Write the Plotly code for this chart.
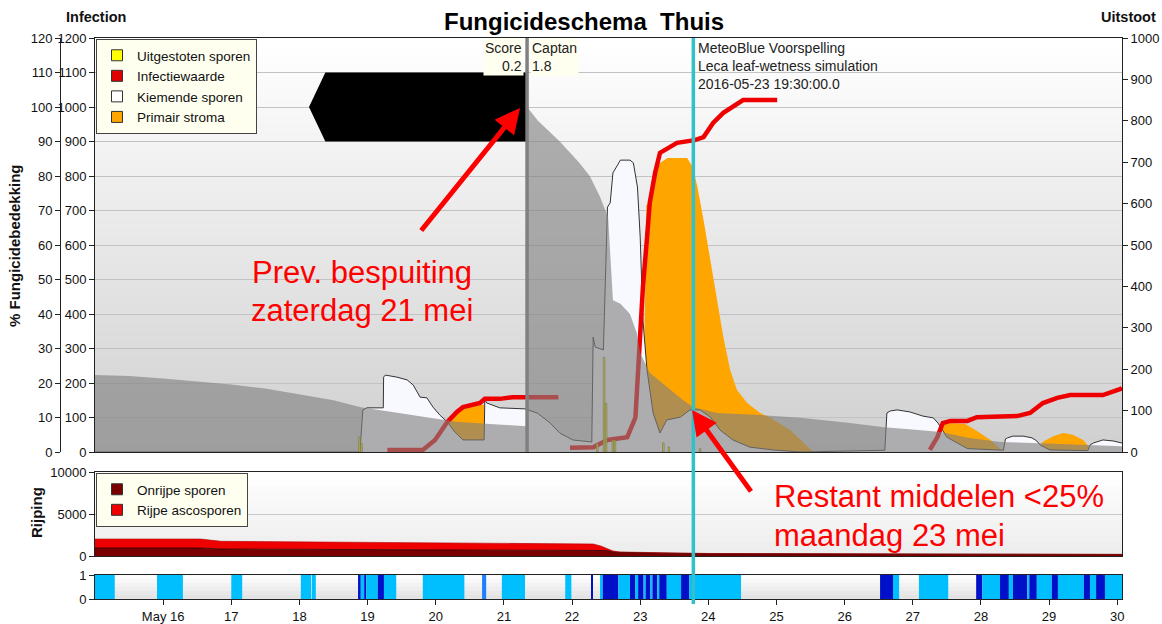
import plotly.graph_objects as go

FONT = "Liberation Sans, Arial, sans-serif"

# ---------------- DATA ----------------
# time axis = fractional day of May 2016
x_range = [15.0, 30.07]
tick_days = list(range(16, 31))
tick_text = ["May 16"] + [str(d) for d in range(17, 31)]

spray_day = 21.34            # Prev. bespuiting (zaterdag 21 mei)
forecast_day = 23.78         # MeteoBlue forecast start
spray_marker_start = 18.14
spray_marker_shoulder = 18.38
spray_marker_level = 100
spray_marker_half = 10

# % Fungicidebedekking (0-120)
cov_days = [15.00, 15.5, 16.0, 16.5, 17.0, 17.5, 18.0, 18.5, 18.9, 19.3, 19.8, 20.3, 20.8, 21.33,
            21.34, 21.5, 21.82, 22.1, 22.26, 22.41, 22.53, 22.58, 22.60, 22.71, 22.85, 22.95, 23.00,
            23.14, 23.39, 23.63, 23.78, 24.13, 24.76, 25.35, 26.08, 26.58, 27.08, 27.41, 27.81,
            28.29, 28.77, 29.50, 30.07]
cov_pct = [22.3, 22.0, 21.3, 20.5, 19.6, 18.4, 16.8, 15.0, 13.0, 11.8, 10.2, 8.8, 8.1, 7.5,
           100, 96, 90, 84, 80, 74, 68, 50, 44, 43, 40, 34.5, 28.7,
           23, 18.8, 15, 13, 11.3, 10.7, 9.9, 8.4, 7.2, 6.4, 5.8, 4.1,
           2.9, 2.6, 2.0, 1.7]

# Kiemende sporen (Infection axis 0-1200)
kiem_days = [15.0, 18.86, 18.89, 18.93, 18.99, 19.23, 19.235, 19.26, 19.43, 19.58, 19.67, 19.77,
             19.87, 19.96, 20.06, 20.17, 20.28, 20.40, 20.71, 20.72, 20.75, 20.94, 21.31, 21.49,
             21.68, 21.82, 22.01, 22.26, 22.29, 22.31, 22.34, 22.46, 22.48, 22.52, 22.56, 22.60,
             22.71, 22.85, 22.90, 22.96, 23.00, 23.04, 23.10, 23.14, 23.19, 23.29, 23.39, 23.59,
             23.73, 23.88, 24.03, 24.17, 24.36, 24.61, 24.95, 25.35, 26.56, 26.59, 26.62, 26.67,
             26.77, 26.96, 27.15, 27.30, 27.37, 27.43, 27.50, 27.80, 28.28, 28.33, 28.36, 28.39,
             28.47, 28.62, 28.75, 28.82, 28.87, 29.01, 29.57, 29.60, 29.65, 29.79, 29.94, 30.05, 30.07]
kiem_vals = [0, 0, 6, 122, 128, 128, 217, 223, 217, 209, 194, 159,
             157, 130, 107, 87, 58, 35, 35, 151, 142, 128, 125, 113,
             84, 55, 35, 29, 29, 333, 304, 296, 440, 710, 722, 809,
             846, 846, 838, 768, 623, 383, 238, 188, 113, 55, 93, 101,
             122, 122, 101, 64, 35, 14, 6, 0, 3, 5, 113, 119,
             122, 116, 104, 99, 84, 64, 43, 10, 5, 5, 38, 41,
             46, 46, 41, 32, 20, 6, 4, 20, 26, 35, 32, 26, 26]

# Primair stroma (Infection axis)
stroma_days = [15.0, 20.00, 20.06, 20.17, 20.31, 20.40, 20.65, 20.71, 20.72,
               23.04, 23.09, 23.14, 23.19, 23.29, 23.40, 23.69, 23.77, 23.84, 23.93, 24.03,
               24.13, 24.22, 24.32, 24.42, 24.57, 24.76, 24.91, 25.20, 25.54,
               27.37, 27.41, 27.46, 27.55, 27.77, 27.92, 28.14, 28.33,
               28.82, 28.91, 29.06, 29.21, 29.35, 29.50, 29.65, 30.07]
stroma_vals = [0, 0, 45, 87, 116, 130, 136, 136, 0,
               0, 715, 722, 797, 838, 852, 852, 826, 768, 672, 556,
               432, 333, 238, 180, 142, 113, 99, 64, 0,
               0, 70, 80, 84, 81, 64, 35, 0,
               0, 30, 46, 55, 50, 35, 0, 0]

# Infectiewaarde (Infection axis), three separate runs
inf_days = [19.29, 19.81, 19.99, 20.17, 20.31, 20.40, 20.65, 20.72, 20.94, 21.13, 21.80, None,
            21.97, 22.31, 22.52, 22.81, 22.93, 23.00, 23.04, 23.10, 23.14, 23.22, 23.29, 23.54,
            23.80, 23.93, 24.07, 24.22, 24.36, 24.51, 25.01, None,
            27.25, 27.36, 27.44, 27.55, 27.80, 27.94, 28.53, 28.72, 28.91, 29.12, 29.31, 29.79,
            30.05, 30.07]
inf_vals = [6, 6, 35, 87, 116, 130, 142, 154, 154, 159, 159, None,
            12, 14, 35, 43, 100, 330, 478, 620, 722, 810, 867, 896,
            904, 913, 954, 983, 1000, 1020, 1020, None,
            6, 43, 84, 90, 90, 101, 104, 113, 142, 157, 165, 165,
            183, 185]

# Uitgestoten sporen (Uitstoot axis 0-1000)
uit_days = [18.88, 18.91, 22.37, 22.47, 22.50, 22.60, 22.63, 23.34, 23.42, 23.88]
uit_vals = [36, 20, 20, 229, 118, 29, 29, 22, 12, 8]

# Rijping (0-10000)
rij_days = [15.0, 16.55, 16.85, 18.0, 19.0, 20.0, 21.0, 22.0, 22.31, 22.42, 22.5, 22.6,
            22.7, 23.34, 24.0, 26.0, 28.3, 30.07]
onrijpe = [950, 950, 830, 800, 780, 760, 740, 720, 700, 680, 650, 480,
           440, 330, 280, 240, 210, 180]
rijpe = [1070, 1070, 920, 900, 870, 820, 780, 740, 730, 520, 300, 120,
         36, 27, 20, 20, 28, 20]
rij_ticks = [0, 5000, 10000]

# Leaf wetness (1 = light, 2 = dark, 3 = medium)
wet_start = [15.00, 15.91, 17.00, 18.02, 18.18, 18.86, 18.90, 18.95, 18.98, 19.15, 19.24, 19.81,
             20.68, 20.97, 21.90, 22.28, 22.41, 22.45, 22.68, 22.85, 22.93, 22.97, 23.05, 23.08,
             23.15, 23.18, 23.25, 23.28, 23.39, 23.60, 23.72, 26.52, 26.71, 27.09, 27.93, 28.02,
             28.28, 28.41, 28.47, 28.68, 28.71, 28.82, 29.04, 29.13, 29.51, 29.60, 29.69, 29.82]
wet_end = [15.29, 16.29, 17.16, 18.17, 18.24, 18.90, 18.95, 18.98, 19.15, 19.24, 19.42, 20.42,
           20.74, 21.31, 21.99, 22.30, 22.45, 22.68, 22.85, 22.93, 22.97, 23.05, 23.08, 23.15,
           23.18, 23.25, 23.28, 23.39, 23.60, 23.72, 24.48, 26.71, 26.80, 27.52, 28.02, 28.28,
           28.41, 28.47, 28.68, 28.71, 28.82, 29.04, 29.13, 29.51, 29.60, 29.69, 29.82, 30.07]
wet_level = [1, 1, 1, 1, 1, 2, 1, 2, 1, 2, 1, 1,
             3, 1, 1, 2, 1, 2, 1, 2, 1, 2, 1, 2,
             1, 2, 1, 2, 1, 2, 1, 2, 1, 1, 2, 1,
             2, 1, 2, 1, 2, 1, 2, 1, 2, 1, 2, 1]

legend_main = [("Uitgestoten sporen", "#FFFF00"), ("Infectiewaarde", "#E00000"),
               ("Kiemende sporen", "#FFFFFF"), ("Primair stroma", "#FFA500")]
legend_rij = [("Onrijpe sporen", "#7A0000"), ("Rijpe ascosporen", "#EE0000")]

# ---------------- LAYOUT CONSTANTS ----------------
W, H = 1162, 624
ML, MR, MT, MB = 40, 40, 38, 25
PW, PH = W - ML - MR, H - MT - MB


def px_x(px):
    return (px - ML) / PW


def px_y(py):
    return (H - MB - py) / PH


xd = [px_x(95), 1.0]
dom_main = [px_y(452), 1.0]
dom_rij = [px_y(556), px_y(472)]
dom_leaf = [0.0, px_y(575)]

fig = go.Figure()

# main panel, base axis (Infection)
fig.add_trace(go.Scatter(x=stroma_days, y=stroma_vals, mode="lines", fill="tozeroy",
                         line=dict(width=0, color="#FFA500"), fillcolor="#FFA500",
                         showlegend=False, hoverinfo="skip"))
fig.add_trace(go.Scatter(x=kiem_days, y=kiem_vals, mode="lines", fill="tozeroy",
                         line=dict(width=1, color="#333333"), fillcolor="#F8F8FF",
                         showlegend=False, hoverinfo="skip"))
fig.add_trace(go.Scatter(x=inf_days, y=inf_vals, mode="lines", connectgaps=False,
                         line=dict(width=4.5, color="#EE0000"),
                         showlegend=False, hoverinfo="skip"))
# Uitstoot overlay
fig.add_trace(go.Bar(x=uit_days, y=uit_vals, width=0.024, yaxis="y2",
                     marker=dict(color="#FFFF00", line=dict(width=0.6, color="#666600")),
                     showlegend=False, hoverinfo="skip"))
# % coverage overlay (on top, semi transparent)
fig.add_trace(go.Scatter(x=cov_days, y=cov_pct, yaxis="y3", mode="lines", fill="tozeroy",
                         line=dict(width=0, color="rgba(128,128,128,0.62)"),
                         fillcolor="rgba(128,128,128,0.62)", showlegend=False, hoverinfo="skip"))
fig.add_trace(go.Scatter(
    x=[spray_marker_start, spray_marker_shoulder, spray_day, spray_day, spray_marker_shoulder, spray_marker_start],
    y=[spray_marker_level, spray_marker_level + spray_marker_half, spray_marker_level + spray_marker_half,
       spray_marker_level - spray_marker_half, spray_marker_level - spray_marker_half, spray_marker_level],
    yaxis="y3", mode="lines", fill="toself", fillcolor="#000000", line=dict(width=0, color="#000000"),
    showlegend=False, hoverinfo="skip"))

# legend entries (main)
for name, col in legend_main:
    fig.add_trace(go.Scatter(x=[None], y=[None], mode="markers", name=name, legend="legend",
                             marker=dict(symbol="square", size=11, color=col,
                                         line=dict(color="#333333", width=1))))

# Rijping panel
fig.add_trace(go.Scatter(x=rij_days, y=onrijpe, xaxis="x2", yaxis="y4", stackgroup="rij",
                         mode="lines", line=dict(width=0.8, color="#2A0000"), fillcolor="#7A0000",
                         showlegend=False, hoverinfo="skip"))
fig.add_trace(go.Scatter(x=rij_days, y=rijpe, xaxis="x2", yaxis="y4", stackgroup="rij",
                         mode="lines", line=dict(width=0.6, color="#B00000"), fillcolor="#EE0000",
                         showlegend=False, hoverinfo="skip"))
for name, col in legend_rij:
    fig.add_trace(go.Scatter(x=[None], y=[None], xaxis="x2", yaxis="y4", mode="markers", name=name,
                             legend="legend2",
                             marker=dict(symbol="square", size=11, color=col,
                                         line=dict(color="#333333", width=1))))

# Leaf wetness panel
level_color = {1: "#00BFFF", 2: "#0010C8", 3: "#1E7FFF"}
fig.add_trace(go.Bar(
    x=[(s + e) / 2 for s, e in zip(wet_start, wet_end)],
    y=[1] * len(wet_start),
    width=[e - s for s, e in zip(wet_start, wet_end)],
    marker=dict(color=[level_color[l] for l in wet_level], line=dict(width=0)),
    xaxis="x3", yaxis="y5", showlegend=False, hoverinfo="skip"))

# ---------------- background gradients ----------------
shapes = []


def gradient(yref, top, bot, n):
    out = []
    for i in range(n):
        t = (i + 0.5) / n
        c = [round(b + (tp - b) * t) for b, tp in zip(bot, top)]
        out.append(dict(type="rect", xref="x domain", yref=yref, x0=0, x1=1,
                        y0=i / n, y1=min(1, (i + 1) / n + 0.003),
                        fillcolor=f"rgb({c[0]},{c[1]},{c[2]})", line=dict(width=0), layer="below"))
    return out


shapes += gradient("y domain", (255, 255, 255), (208, 208, 208), 48)
shapes += gradient("y4 domain", (255, 255, 255), (236, 236, 236), 12)
shapes += gradient("y5 domain", (255, 255, 255), (225, 225, 225), 6)

shapes.append(dict(type="line", xref="x", yref="y domain", x0=spray_day, x1=spray_day, y0=0, y1=1,
                   line=dict(color="#808080", width=3.5), layer="above"))
shapes.append(dict(type="line", xref="x", yref="paper", x0=forecast_day, x1=forecast_day,
                   y0=-0.009, y1=1, line=dict(color="#30C2C8", width=3.5), layer="above"))

tickfont = dict(family=FONT, size=13, color="#111111")
axis_common = dict(showline=True, linecolor="#222222", linewidth=1, zeroline=False, automargin=False)

fig.update_layout(
    width=W, height=H, margin=dict(l=ML, r=MR, t=MT, b=MB, autoexpand=False),
    paper_bgcolor="white", plot_bgcolor="white",
    barmode="overlay", hovermode=False,
    font=dict(family=FONT, size=13, color="#111111"),
    xaxis=dict(domain=xd, range=x_range, anchor="y", showticklabels=False, ticks="",
               mirror=True, showgrid=False, **axis_common),
    yaxis=dict(domain=dom_main, range=[0, 1200], tick0=0, dtick=100, ticks="outside", ticklen=5,
               tickcolor="#222222", showgrid=True, gridcolor="#C2C2C2", gridwidth=1,
               tickfont=tickfont, **axis_common),
    yaxis2=dict(overlaying="y", side="right", anchor="x", range=[0, 1000], tick0=0, dtick=100,
                ticks="outside", ticklen=5, tickcolor="#222222", showgrid=False, tickfont=tickfont,
                **axis_common),
    yaxis3=dict(overlaying="y", side="left", anchor="free", position=px_x(60), range=[0, 120],
                tick0=0, dtick=10, ticks="outside", ticklen=5, tickcolor="#222222", showgrid=False,
                tickfont=tickfont, **axis_common),
    xaxis2=dict(domain=xd, range=x_range, anchor="y4", showticklabels=False, ticks="",
                mirror=True, showgrid=False, **axis_common),
    yaxis4=dict(domain=dom_rij, range=[0, 10000], tickvals=rij_ticks,
                ticktext=[str(v) for v in rij_ticks], ticks="outside",
                ticklen=5, tickcolor="#222222", mirror=True, showgrid=True, gridcolor="#C8C8C8",
                tickfont=tickfont, **axis_common),
    xaxis3=dict(domain=xd, range=x_range, anchor="y5", tickvals=tick_days, ticktext=tick_text,
                ticks="outside", ticklen=5, tickcolor="#222222", mirror=True, showgrid=False,
                tickfont=tickfont, **axis_common),
    yaxis5=dict(domain=dom_leaf, range=[0, 1], tickvals=[0, 1], ticks="outside", ticklen=5,
                tickcolor="#222222", mirror=True, showgrid=False, tickfont=tickfont, **axis_common),
    legend=dict(x=px_x(96), y=px_y(39), xanchor="left", yanchor="top", bgcolor="#FFFFF0",
                bordercolor="#444444", borderwidth=1, tracegroupgap=0, traceorder="normal",
                font=dict(family=FONT, size=13.5, color="#111111")),
    legend2=dict(x=px_x(96), y=px_y(473), xanchor="left", yanchor="top", bgcolor="#FFFFF0",
                 bordercolor="#444444", borderwidth=1, tracegroupgap=0, traceorder="normal",
                 font=dict(family=FONT, size=13.5, color="#111111")),
    shapes=shapes,
)

ann = []
ann.append(dict(text="<b>Fungicideschema&nbsp; Thuis</b>", x=px_x(584), y=px_y(22), xref="paper",
                yref="paper", showarrow=False, xanchor="center", yanchor="middle",
                font=dict(family=FONT, size=24, color="#000000")))
ann.append(dict(text="<b>Infection</b>", x=px_x(96), y=px_y(17), xref="paper", yref="paper",
                showarrow=False, xanchor="center", yanchor="middle",
                font=dict(family=FONT, size=14.5, color="#111111")))
ann.append(dict(text="<b>Uitstoot</b>", x=px_x(1158), y=px_y(17), xref="paper", yref="paper",
                showarrow=False, xanchor="right", yanchor="middle",
                font=dict(family=FONT, size=14.5, color="#111111")))
ann.append(dict(text="<b>% Fungicidebedekking</b>", x=px_x(15), y=px_y(246), xref="paper",
                yref="paper", showarrow=False, textangle=-90, xanchor="center", yanchor="middle",
                font=dict(family=FONT, size=15, color="#111111")))
ann.append(dict(text="<b>Rijping</b>", x=px_x(36), y=px_y(513), xref="paper", yref="paper",
                showarrow=False, textangle=-90, xanchor="center", yanchor="middle",
                font=dict(family=FONT, size=15, color="#111111")))
ann.append(dict(text="Score<br>0.2", x=spray_day, y=1, xref="x", yref="y domain", xshift=-3,
                showarrow=False, xanchor="right", yanchor="top", align="right",
                bgcolor="#FFFFF0", font=dict(family=FONT, size=14, color="#222222")))
ann.append(dict(text="Captan<br>1.8", x=spray_day, y=1, xref="x", yref="y domain", xshift=3,
                showarrow=False, xanchor="left", yanchor="top", align="left",
                bgcolor="#FFFFF0", font=dict(family=FONT, size=14, color="#222222")))
ann.append(dict(text="MeteoBlue Voorspelling<br>Leca leaf-wetness simulation<br>2016-05-23 19:30:00.0",
                x=forecast_day, y=1, xref="x", yref="y domain", xshift=3, showarrow=False,
                xanchor="left", yanchor="top", align="left",
                font=dict(family=FONT, size=14, color="#222222")))
red_font = dict(family=FONT, size=31, color="#FF0000")
ann.append(dict(text="Prev. bespuiting", x=px_x(362), y=px_y(272), xref="paper", yref="paper",
                showarrow=False, xanchor="center", yanchor="middle", font=red_font))
ann.append(dict(text="zaterdag 21 mei", x=px_x(362), y=px_y(310), xref="paper", yref="paper",
                showarrow=False, xanchor="center", yanchor="middle", font=red_font))
ann.append(dict(text="Restant middelen &lt;25%", x=px_x(772), y=px_y(497), xref="paper",
                yref="paper", showarrow=False, xanchor="left", yanchor="middle", font=red_font))
ann.append(dict(text="maandag 23 mei", x=px_x(772), y=px_y(535), xref="paper", yref="paper",
                showarrow=False, xanchor="left", yanchor="middle", font=red_font))
# red arrows
ann.append(dict(text="", x=21.237, y=99.7, xref="x", yref="y3", ax=-100, ay=124,
                showarrow=True, arrowhead=2, arrowsize=1, arrowwidth=5, arrowcolor="#FF0000",
                standoff=0, startstandoff=0))
ann.append(dict(text="", x=23.761, y=12.2, xref="x", yref="y3", ax=60, ay=83,
                showarrow=True, arrowhead=2, arrowsize=1, arrowwidth=5, arrowcolor="#FF0000",
                standoff=0, startstandoff=0))
fig.update_layout(annotations=ann)

fig.write_html("out.html", config={"displayModeBar": False},
               post_script="document.body.style.margin='0px';document.body.style.overflow='hidden';")
